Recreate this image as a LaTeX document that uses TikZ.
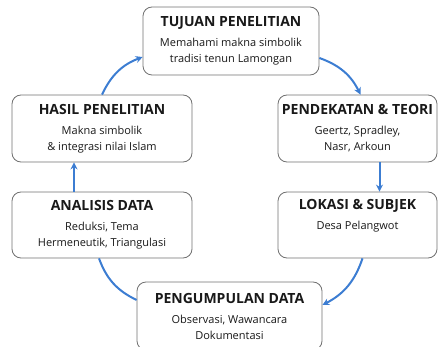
\documentclass[tikz,border=0pt]{standalone}
\usepackage{fontspec}
\setmainfont{Open Sans}
\usetikzlibrary{arrows.meta,positioning}
\definecolor{flowblue}{HTML}{3C7DD2}
\definecolor{boxline}{HTML}{707070}

\begin{document}
\begin{tikzpicture}[x=1pt,y=-1pt,
    stage/.style={draw=boxline,line width=.8pt,rounded corners=9pt,fill=white,align=center,
      text=black!90,font=\fontsize{11}{16}\selectfont,inner sep=0pt,minimum height=67pt},
    flow/.style={draw=flowblue,line width=2pt,-{Stealth[length=7pt,width=7pt]}}]
    \useasboundingbox (0,0) rectangle (438,347);
    % stages of the research cycle
    \node[stage,minimum width=176pt,minimum height=68pt] (tujuan) at (231,41)
      {{\fontsize{14}{16}\selectfont\bfseries TUJUAN PENELITIAN}\\[4pt]Memahami makna simbolik\\tradisi tenun Lamongan};
    \node[stage,minimum width=159pt] (pendekatan) at (357.5,128.5)
      {{\fontsize{14}{16}\selectfont\bfseries PENDEKATAN \& TEORI}\\[4pt]Geertz, Spradley,\\Nasr, Arkoun};
    \node[stage,minimum width=159pt,minimum height=66pt] (lokasi) at (357.5,225)
      {{\fontsize{14}{16}\selectfont\bfseries LOKASI \& SUBJEK}\\[4pt]Desa Pelangwot\\\strut};
    \node[stage,minimum width=185pt,minimum height=68pt] (pengumpulan) at (229.5,316)
      {{\fontsize{14}{16}\selectfont\bfseries PENGUMPULAN DATA}\\[4pt]Observasi, Wawancara\\Dokumentasi};
    \node[stage,minimum width=180pt,minimum height=66pt] (analisis) at (102,225)
      {{\fontsize{14}{16}\selectfont\bfseries ANALISIS DATA}\\[4pt]Reduksi, Tema\\Hermeneutik, Triangulasi};
    \node[stage,minimum width=180pt] (hasil) at (102,128.5)
      {{\fontsize{14}{16}\selectfont\bfseries HASIL PENELITIAN}\\[4pt]Makna simbolik\\\& integrasi nilai Islam};
    % cycle connectors
    \draw[flow] (hasil.north) to[bend left=22] ([yshift=-16pt]tujuan.west);
    \draw[flow] ([yshift=-17pt]tujuan.east) to[bend left=22] ([xshift=3pt]pendekatan.north);
    \draw[flow] ([xshift=22pt]pendekatan.south) -- ([xshift=22pt]lokasi.north);
    \draw[flow] ([xshift=5pt]lokasi.south) to[bend left=22] ([yshift=11pt]pengumpulan.east);
    \draw[flow,-] ([yshift=16pt]pengumpulan.west) to[bend left=22] ([xshift=-3pt]analisis.south);
    \draw[flow] ([xshift=-28pt]analisis.north) -- ([xshift=-28pt]hasil.south);
\end{tikzpicture}
\end{document}
